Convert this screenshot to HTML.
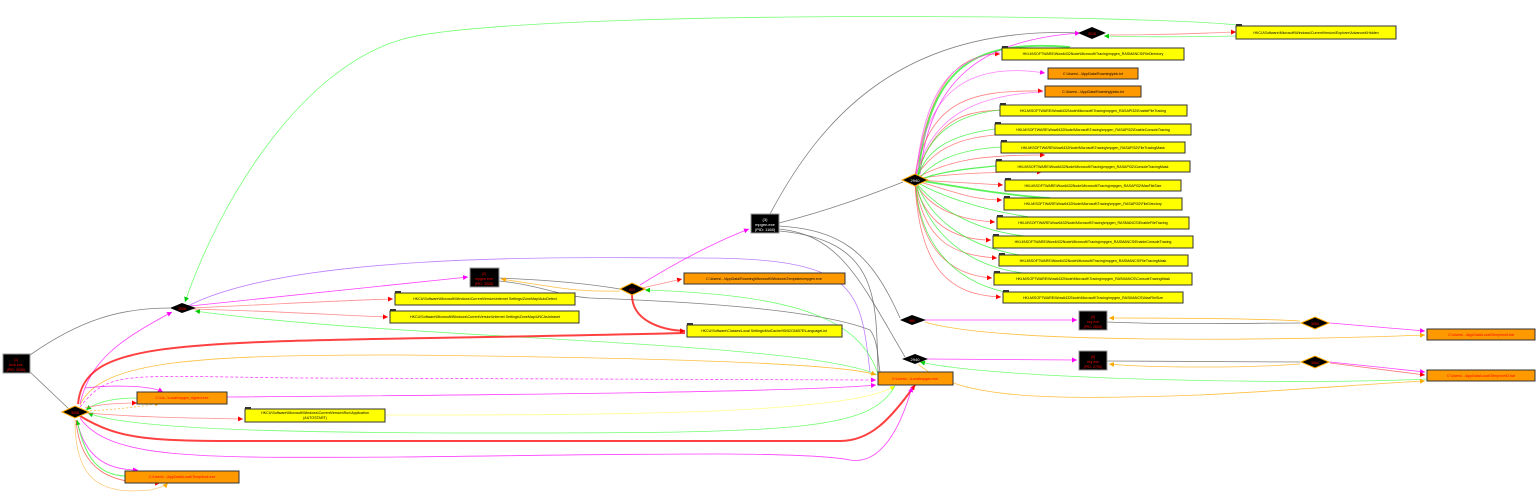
<!DOCTYPE html>
<html><head><meta charset="utf-8"><style>
html,body{margin:0;padding:0;background:#fff;width:1536px;height:503px;overflow:hidden}
svg{display:block}
text{font-family:"Liberation Sans",sans-serif}
.t{font-size:3.6px;fill:#000;text-anchor:middle}
.r{font-size:3.6px;fill:#f00;text-anchor:middle}
.w{font-size:4px;fill:#fff;text-anchor:middle}
</style></head><body>
<svg width="1536" height="503" viewBox="0 0 1536 503" xmlns="http://www.w3.org/2000/svg">
<defs>
<marker id="mr" markerUnits="userSpaceOnUse" markerWidth="5" markerHeight="5" refX="5" refY="2.5" orient="auto"><path d="M0,0L5,2.5L0,5z" fill="#f00"/></marker>
<marker id="mg" markerUnits="userSpaceOnUse" markerWidth="5" markerHeight="5" refX="5" refY="2.5" orient="auto"><path d="M0,0L5,2.5L0,5z" fill="#0c0"/></marker>
<marker id="mm" markerUnits="userSpaceOnUse" markerWidth="5" markerHeight="5" refX="5" refY="2.5" orient="auto"><path d="M0,0L5,2.5L0,5z" fill="#f0f"/></marker>
<marker id="mo" markerUnits="userSpaceOnUse" markerWidth="5" markerHeight="5" refX="5" refY="2.5" orient="auto"><path d="M0,0L5,2.5L0,5z" fill="#fa0"/></marker>
<marker id="mp" markerUnits="userSpaceOnUse" markerWidth="5" markerHeight="5" refX="5" refY="2.5" orient="auto"><path d="M0,0L5,2.5L0,5z" fill="#a5f"/></marker>
<marker id="my" markerUnits="userSpaceOnUse" markerWidth="5" markerHeight="5" refX="5" refY="2.5" orient="auto"><path d="M0,0L5,2.5L0,5z" fill="#ff0"/></marker>
</defs>
<g fill="none" stroke-width="0.8" stroke-opacity="0.75">
<g stroke="#555">
<path d="M30,355 C80,320 120,308 170,308"/>
<path d="M30,372 L70,410"/>
<path d="M499,278 C550,280 590,284 620,289"/>
<path d="M499,281 C540,285 560,296 590,298 C700,302 820,310 870,330 C878,340 878,360 880,372"/>
<path d="M770,214 C820,120 900,25 1080,33"/>
<path d="M779,223 C830,210 870,195 903,182"/>
<path d="M779,226 C840,230 870,250 900,318"/>
<path d="M779,229 C840,235 860,280 905,357"/>
<path d="M779,231 C880,240 876,300 878,372"/>
<path d="M1107,322 C1180,325 1250,323 1300,323"/>
<path d="M1107,361 C1180,361 1250,362 1300,362"/>
</g>
<path d="M1250,27 C1200,14 500,8 400,40 C300,70 220,200 185,302" stroke="#4f4" marker-end="url(#mg)"/>
<path d="M1110,35 C1180,35 1200,33 1236,32" stroke="#f66" marker-end="url(#mr)"/>
<path d="M1236,36 C1180,37 1130,37 1104,36" stroke="#4f4" marker-end="url(#mg)"/>
<path d="M920,174 C930,80 980,40 1080,33" stroke="#f0f" marker-end="url(#mm)"/>
<path d="M190,305 C300,250 600,258 700,258 C860,258 860,290 870,372" stroke="#a5f" marker-start="url(#mp)"/>
<path d="M190,306 L468,277" stroke="#f0f" marker-end="url(#mm)"/>
<path d="M192,308 C300,303 350,300 393,299" stroke="#f66" marker-end="url(#mr)"/>
<path d="M192,309 C300,312 350,316 388,317" stroke="#f66" marker-end="url(#mr)"/>
<path d="M878,375 C800,340 400,340 195,311" stroke="#4f4" marker-end="url(#mg)"/>
<path d="M80,404 C90,360 120,340 172,312" stroke="#f0f" marker-end="url(#mm)"/>
<path d="M640,285 C680,260 720,240 749,229" stroke="#f0f" marker-end="url(#mm)"/>
<path d="M642,288 L682,279" stroke="#f66" marker-end="url(#mr)"/>
<path d="M620,291 C580,292 560,288 540,285 L501,279" stroke="#fa0" marker-end="url(#mo)"/>
<path d="M878,374 C860,320 800,295 645,290" stroke="#4f4" marker-end="url(#mg)"/>
<path d="M632,295 C632,320 660,330 685,331" stroke="#f00" stroke-width="2" marker-end="url(#mr)"/>
<path d="M78,404 C85,330 200,345 685,333" stroke="#f00" stroke-width="2"/>
<path d="M80,405 C100,360 200,355 400,355 C700,358 850,365 876,375" stroke="#fa0" marker-end="url(#mo)"/>
<path d="M80,407 C110,370 120,376 300,378 L876,380" stroke="#f0f" stroke-dasharray="3,2" marker-end="url(#mm)"/>
<path d="M227,397 C500,395 800,392 876,385" stroke="#f0f" marker-end="url(#mm)"/>
<path d="M385,415 C600,415 850,415 895,386" stroke="#ff6" marker-end="url(#my)"/>
<path d="M895,386 C870,430 800,433 500,433 C300,433 130,430 88,413" stroke="#4f4" marker-end="url(#mg)"/>
<path d="M80,416 C120,440 150,441 250,441 L840,441 C870,441 890,420 915,385" stroke="#f00" stroke-width="2" marker-end="url(#mr)"/>
<path d="M80,418 C110,460 200,458 400,457 C600,455 800,450 850,460 C880,465 900,430 912,387" stroke="#f0f" marker-end="url(#mm)"/>
<path d="M137,398 C110,398 95,403 86,410" stroke="#4f4" marker-end="url(#mg)"/>
<path d="M85,408 C100,404 120,403 137,403" stroke="#f66" marker-end="url(#mr)"/>
<path d="M86,411 C110,410 140,407 160,403" stroke="#fa0" stroke-dasharray="2,2" marker-end="url(#mo)"/>
<path d="M85,388 C110,385 150,385 163,392" stroke="#f0f" marker-end="url(#mm)"/>
<path d="M86,413 C150,418 200,418 243,419" stroke="#f66" marker-end="url(#mr)"/>
<path d="M77,420 C85,460 110,470 138,470" stroke="#f0f" marker-end="url(#mm)"/>
<path d="M125,476 C100,475 85,460 77,420" stroke="#4f4" stroke-width="1.2" marker-end="url(#mg)"/>
<path d="M76,420 C80,470 110,485 160,483" stroke="#f33" marker-end="url(#mr)"/>
<path d="M75,420 C75,480 100,495 150,490 C160,488 165,486 168,483" stroke="#fb5" marker-end="url(#mo)"/>
<path d="M925,320 L1077,320" stroke="#f0f" marker-end="url(#mm)"/>
<path d="M925,322 C1000,345 1300,340 1425,335" stroke="#fa0" marker-end="url(#mo)"/>
<path d="M1300,321 C1250,318 1150,318 1109,318" stroke="#fa0" marker-end="url(#mo)"/>
<path d="M1330,323 L1425,331" stroke="#f0f" marker-end="url(#mm)"/>
<path d="M927,359 L1077,360" stroke="#f0f" marker-end="url(#mm)"/>
<path d="M1300,364 C1250,368 1150,368 1109,364" stroke="#fa0" marker-end="url(#mo)"/>
<path d="M1330,362 L1425,372" stroke="#f0f" marker-end="url(#mm)"/>
<path d="M1330,363 L1425,375" stroke="#f44" marker-end="url(#mr)"/>
<path d="M1427,379 C1300,385 1000,380 920,362" stroke="#4f4" marker-end="url(#mg)"/>
<path d="M918,364 C960,400 1050,400 1200,395 C1300,390 1380,383 1425,381" stroke="#fa0" marker-end="url(#mo)"/>
<g stroke="#f55">
<path d="M915,176 C930,80 960,53 1000,54" marker-end="url(#mr)"/>
<path d="M915,176 C930,100 970,90 1043,91" marker-end="url(#mr)"/>
<path d="M915,177 C940,110 970,110 1020,110" marker-end="url(#mr)"/>
<path d="M915,178 C940,140 970,135 1030,133" marker-end="url(#mr)"/>
<path d="M916,178 C950,160 980,155 1045,155" marker-end="url(#mr)"/>
<path d="M916,179 C950,173 1000,172 1042,172" marker-end="url(#mr)"/>
<path d="M916,180 L1003,185" marker-end="url(#mr)"/>
<path d="M916,181 C950,190 970,200 1002,200" marker-end="url(#mr)"/>
<path d="M915,182 C930,210 960,220 995,222" marker-end="url(#mr)"/>
<path d="M915,183 C925,220 950,240 991,240" marker-end="url(#mr)"/>
<path d="M915,183 C925,240 950,255 997,258" marker-end="url(#mr)"/>
<path d="M915,183 C920,250 950,275 992,278" marker-end="url(#mr)"/>
<path d="M915,184 C920,270 950,295 1001,297" marker-end="url(#mr)"/>
</g>
<g stroke="#2e2">
<path d="M1070,47 C980,40 930,60 918,176" stroke-width="1.8"/>
<path d="M1000,110 C950,115 925,140 918,177"/>
<path d="M995,129 C950,135 925,150 918,178"/>
<path d="M1001,147 C950,150 930,165 919,179"/>
<path d="M996,166 C950,170 930,175 920,180" stroke-width="1.3"/>
<path d="M1050,198 C1000,195 950,185 922,181" stroke-width="1.8"/>
<path d="M1030,217 C980,210 940,195 920,184"/>
<path d="M1025,236 C970,230 935,205 918,185"/>
<path d="M1020,255 C960,245 930,215 918,186"/>
<path d="M1023,273 C960,265 925,225 917,186"/>
<path d="M1005,292 C950,280 920,240 916,187"/>
</g>
<path d="M916,176 C925,100 960,60 1045,73" stroke="#f5f" marker-end="url(#mm)"/>
<path d="M916,176 C930,120 970,95 1043,92" stroke="#f5f"/>
<path d="M916,175 C925,90 950,60 1000,52" stroke="#f5f"/>
</g>
<g stroke="#333" stroke-width="1">
<g fill="#ff0">
<rect x="1236" y="26" width="160" height="13"/>
<rect x="1002" y="48" width="182" height="12"/>
<rect x="1000" y="105" width="187" height="11"/>
<rect x="995" y="124" width="196" height="11"/>
<rect x="1001" y="142" width="184" height="11"/>
<rect x="996" y="161" width="194" height="11"/>
<rect x="1005" y="180" width="176" height="11"/>
<rect x="1004" y="198" width="178" height="12"/>
<rect x="997" y="217" width="192" height="12"/>
<rect x="993" y="236" width="200" height="12"/>
<rect x="999" y="255" width="189" height="11"/>
<rect x="994" y="273" width="198" height="12"/>
<rect x="1003" y="292" width="180" height="11"/>
<rect x="395" y="293" width="180" height="12"/>
<rect x="390" y="311" width="189" height="12"/>
<rect x="687" y="325" width="155" height="12"/>
<rect x="245" y="409" width="140" height="13"/>
</g>
<g fill="#f90">
<rect x="1048" y="68" width="90" height="11"/>
<rect x="1045" y="86" width="96" height="11"/>
<rect x="684" y="273" width="161" height="11"/>
<rect x="878" y="372" width="75" height="13"/>
<rect x="1427" y="329" width="108" height="11"/>
<rect x="1427" y="370" width="108" height="11"/>
<rect x="137" y="392" width="90" height="12"/>
<rect x="125" y="471" width="114" height="12"/>
</g>
<g fill="#000" stroke="#999">
<rect x="3" y="354" width="27" height="19"/>
<rect x="470" y="268" width="29" height="19"/>
<rect x="751" y="214" width="28" height="19"/>
<rect x="1079" y="311" width="28" height="19"/>
<rect x="1079" y="351" width="28" height="19"/>
</g>
<g fill="#000" stroke="none">
<path d="M170,308 L182,303 L196,308 L182,313z"/>
<path d="M1078,33 L1092,27 L1106,33 L1092,39z"/>
<path d="M900,320 L912,315 L926,320 L912,325z"/>
<path d="M902,359 L915,354 L928,359 L915,364z"/>
</g>
<g fill="#000" stroke="#fa0">
<path d="M62,412 L75,406 L89,412 L75,418z"/>
<path d="M620,289 L632,283 L645,289 L632,295z"/>
<path d="M902,180 L915,174 L928,180 L915,186z"/>
<path d="M1301,323 L1315,317 L1329,323 L1315,329z"/>
<path d="M1301,362 L1315,356 L1329,362 L1315,368z"/>
</g>
</g>
<g fill="#333">
<rect x="1236" y="24" width="6" height="2"/><rect x="1002" y="46" width="6" height="2"/><rect x="1000" y="103" width="6" height="2"/><rect x="995" y="122" width="6" height="2"/><rect x="1001" y="140" width="6" height="2"/><rect x="996" y="159" width="6" height="2"/><rect x="1005" y="178" width="6" height="2"/><rect x="1004" y="196" width="6" height="2"/><rect x="997" y="215" width="6" height="2"/><rect x="993" y="234" width="6" height="2"/><rect x="999" y="253" width="6" height="2"/><rect x="994" y="271" width="6" height="2"/><rect x="1003" y="290" width="6" height="2"/><rect x="395" y="291" width="6" height="2"/><rect x="390" y="309" width="6" height="2"/><rect x="687" y="323" width="6" height="2"/><rect x="245" y="407" width="6" height="2"/>
</g>
<text class="r" x="16" y="361">(1)</text><text class="r" x="16" y="366">fuck.exe</text><text class="r" x="16" y="371">(PID: 3936)</text>
<text class="r" x="484" y="275">(2)</text><text class="r" x="484" y="280">mpgen.exe</text><text class="r" x="484" y="285">(PID: 3028)</text>
<text class="w" x="765" y="221">(3)</text><text class="w" x="765" y="226">mpgen.exe</text><text class="w" x="765" y="231">(PID: 1168)</text>
<text class="r" x="1093" y="318">(4)</text><text class="r" x="1093" y="323">reg.exe</text><text class="r" x="1093" y="328">(PID: 2600)</text>
<text class="r" x="1093" y="358">(5)</text><text class="r" x="1093" y="363">reg.exe</text><text class="r" x="1093" y="368">(PID: 2700)</text>
<text class="r" x="75" y="414">3008</text><text class="r" x="182" y="310">3008</text><text class="r" x="632" y="291">800</text>
<text class="w" x="915" y="182">2940</text><text class="r" x="1092" y="35">3016</text><text class="r" x="912" y="322">980</text><text class="w" x="915" y="361">2940</text>
<text class="r" x="1315" y="325">3064</text><text class="r" x="1315" y="364">3064</text>
<text class="t" x="1316" y="34">HKCU\Software\Microsoft\Windows\CurrentVersion\Explorer\Advanced\Hidden</text>
<text class="t" x="1093" y="55">HKLM\SOFTWARE\Wow6432Node\Microsoft\Tracing\mpgen_RASMANCS\FileDirectory</text>
<text class="t" x="1093" y="75">C:\Users\...\AppData\Roaming\pbk.txt</text>
<text class="t" x="1093" y="93">C:\Users\...\AppData\Roaming\pbks.txt</text>
<text class="t" x="1093" y="112">HKLM\SOFTWARE\Wow6432Node\Microsoft\Tracing\mpgen_RASAPI32\EnableFileTracing</text>
<text class="t" x="1093" y="131">HKLM\SOFTWARE\Wow6432Node\Microsoft\Tracing\mpgen_RASAPI32\EnableConsoleTracing</text>
<text class="t" x="1093" y="149">HKLM\SOFTWARE\Wow6432Node\Microsoft\Tracing\mpgen_RASAPI32\FileTracingMask</text>
<text class="t" x="1093" y="168">HKLM\SOFTWARE\Wow6432Node\Microsoft\Tracing\mpgen_RASAPI32\ConsoleTracingMask</text>
<text class="t" x="1093" y="187">HKLM\SOFTWARE\Wow6432Node\Microsoft\Tracing\mpgen_RASAPI32\MaxFileSize</text>
<text class="t" x="1093" y="205">HKLM\SOFTWARE\Wow6432Node\Microsoft\Tracing\mpgen_RASAPI32\FileDirectory</text>
<text class="t" x="1093" y="224">HKLM\SOFTWARE\Wow6432Node\Microsoft\Tracing\mpgen_RASMANCS\EnableFileTracing</text>
<text class="t" x="1093" y="243">HKLM\SOFTWARE\Wow6432Node\Microsoft\Tracing\mpgen_RASMANCS\EnableConsoleTracing</text>
<text class="t" x="1093" y="262">HKLM\SOFTWARE\Wow6432Node\Microsoft\Tracing\mpgen_RASMANCS\FileTracingMask</text>
<text class="t" x="1093" y="280">HKLM\SOFTWARE\Wow6432Node\Microsoft\Tracing\mpgen_RASMANCS\ConsoleTracingMask</text>
<text class="t" x="1093" y="299">HKLM\SOFTWARE\Wow6432Node\Microsoft\Tracing\mpgen_RASMANCS\MaxFileSize</text>
<text class="t" x="485" y="300">HKCU\Software\Microsoft\Windows\CurrentVersion\Internet Settings\ZoneMap\AutoDetect</text>
<text class="t" x="485" y="318">HKCU\Software\Microsoft\Windows\CurrentVersion\Internet Settings\ZoneMap\UNCAsIntranet</text>
<text class="t" x="764" y="332">HKCU\Software\Classes\Local Settings\MuiCache\95\52C64B7E\LanguageList</text>
<text class="t" x="315" y="414">HKCU\Software\Microsoft\Windows\CurrentVersion\Run\Application</text><text class="t" x="315" y="419">(AUTOSTART)</text>
<text class="t" x="764" y="280">C:\Users\...\AppData\Roaming\Microsoft\Windows\Templates\mpgen.exe</text>
<text class="r" x="915" y="380">C:\Users\...\Local\mpgen.exe</text>
<text class="r" x="1481" y="336">C:\Users\...\AppData\Local\Temp\melt.bat</text>
<text class="r" x="1481" y="377">C:\Users\...\AppData\Local\Temp\melt2.bat</text>
<text class="r" x="182" y="399">C:\Us...\Local\mpgen_signed.exe</text>
<text class="r" x="182" y="478">C:\Users\...\AppData\Local\Temp\fuck.exe</text>
</svg>
</body></html>
